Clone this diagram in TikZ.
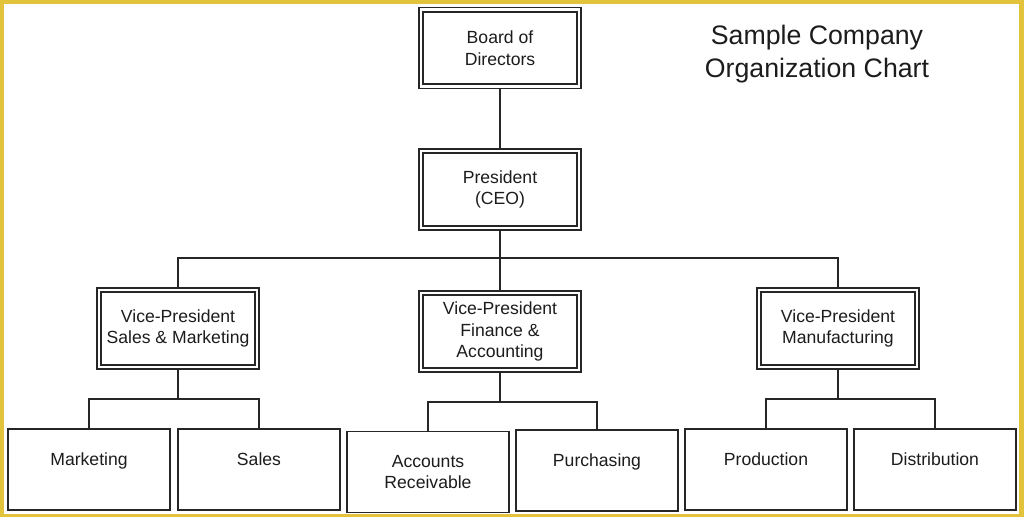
\documentclass[tikz,border=0pt]{standalone}
\usepackage{fontspec}
\setmainfont{Liberation Sans}
\definecolor{frameyellow}{HTML}{E3C33C}
\definecolor{inkc}{HTML}{262626}
\definecolor{textc}{HTML}{1C1C1C}
\begin{document}
\begin{tikzpicture}[x=1pt,y=-1pt,
  boxtext/.style={font=\fontsize{17.6}{21.5}\selectfont, text=textc, align=center, inner sep=0pt},
  dblbox/.style={boxtext, draw=inkc, line width=1.8pt, outer sep=4.3pt,
    minimum width=153.4pt, minimum height=72.4pt},
  outerline/.style={draw=inkc, line width=1.1pt},
  plainbox/.style={boxtext, draw=inkc, line width=1.5pt, outer sep=0pt,
    minimum width=162pt, minimum height=81pt},
  conn/.style={draw=inkc, line width=1.5pt}
]
\useasboundingbox (0,0) rectangle (1024,517);
\fill[frameyellow] (0,0) rectangle (1024,517);
\fill[white] (3.5,3.5) rectangle (1019,513.5);

% title
\node[font=\fontsize{26.7}{33}\selectfont, text=textc, align=center, inner sep=0pt]
  (title) at (817,54.5) {Sample Company\\Organization Chart};

% double boxes
\node[dblbox] (board) at (500,48)    {Board of\\Directors};
\node[dblbox] (pres)  at (500,189.5) {President\\(CEO)};
\node[dblbox] (vpsm)  at (178,328.5) {Vice-President\\Sales \& Marketing};
\node[dblbox] (vpfin) at (500,331.5) {Vice-President\\Finance \&\\Accounting};
\node[dblbox] (vpman) at (838,328.5) {Vice-President\\Manufacturing};
\foreach \n in {board,pres,vpsm,vpfin,vpman}
  \draw[outerline] (\n.north west) rectangle (\n.south east);

% plain boxes
\node[plainbox] (mkt)   at (89,469.5)  {Marketing\\\mbox{}};
\node[plainbox] (sales) at (259,469.5) {Sales\\\mbox{}};
\node[plainbox] (acc)   at (428,472)   {Accounts\\Receivable};
\node[plainbox] (pur)   at (597,470.5) {Purchasing\\\mbox{}};
\node[plainbox] (prod)  at (766,469.5) {Production\\\mbox{}};
\node[plainbox] (dist)  at (935,469.5) {Distribution\\\mbox{}};

% bus coordinates
\coordinate (bus)  at (500,258);
\coordinate (bsm)  at (178,399);
\coordinate (bfin) at (500,402);
\coordinate (bman) at (838,399);

% connectors
\draw[conn] (board.south) -- (pres.south |- board.south) -- (pres.north);
\draw[conn] (pres.south) -- (vpfin.north);
\draw[conn] (vpsm.north) |- (bus) -| (vpman.north);

\draw[conn] (vpsm.south) -- (bsm);
\draw[conn] (mkt.north) |- (bsm) -| (sales.north);

\draw[conn] (vpfin.south) -- (bfin);
\draw[conn] (acc.north) |- (bfin) -| (pur.north);

\draw[conn] (vpman.south) -- (bman);
\draw[conn] (prod.north) |- (bman) -| (dist.north);
\end{tikzpicture}
\end{document}
